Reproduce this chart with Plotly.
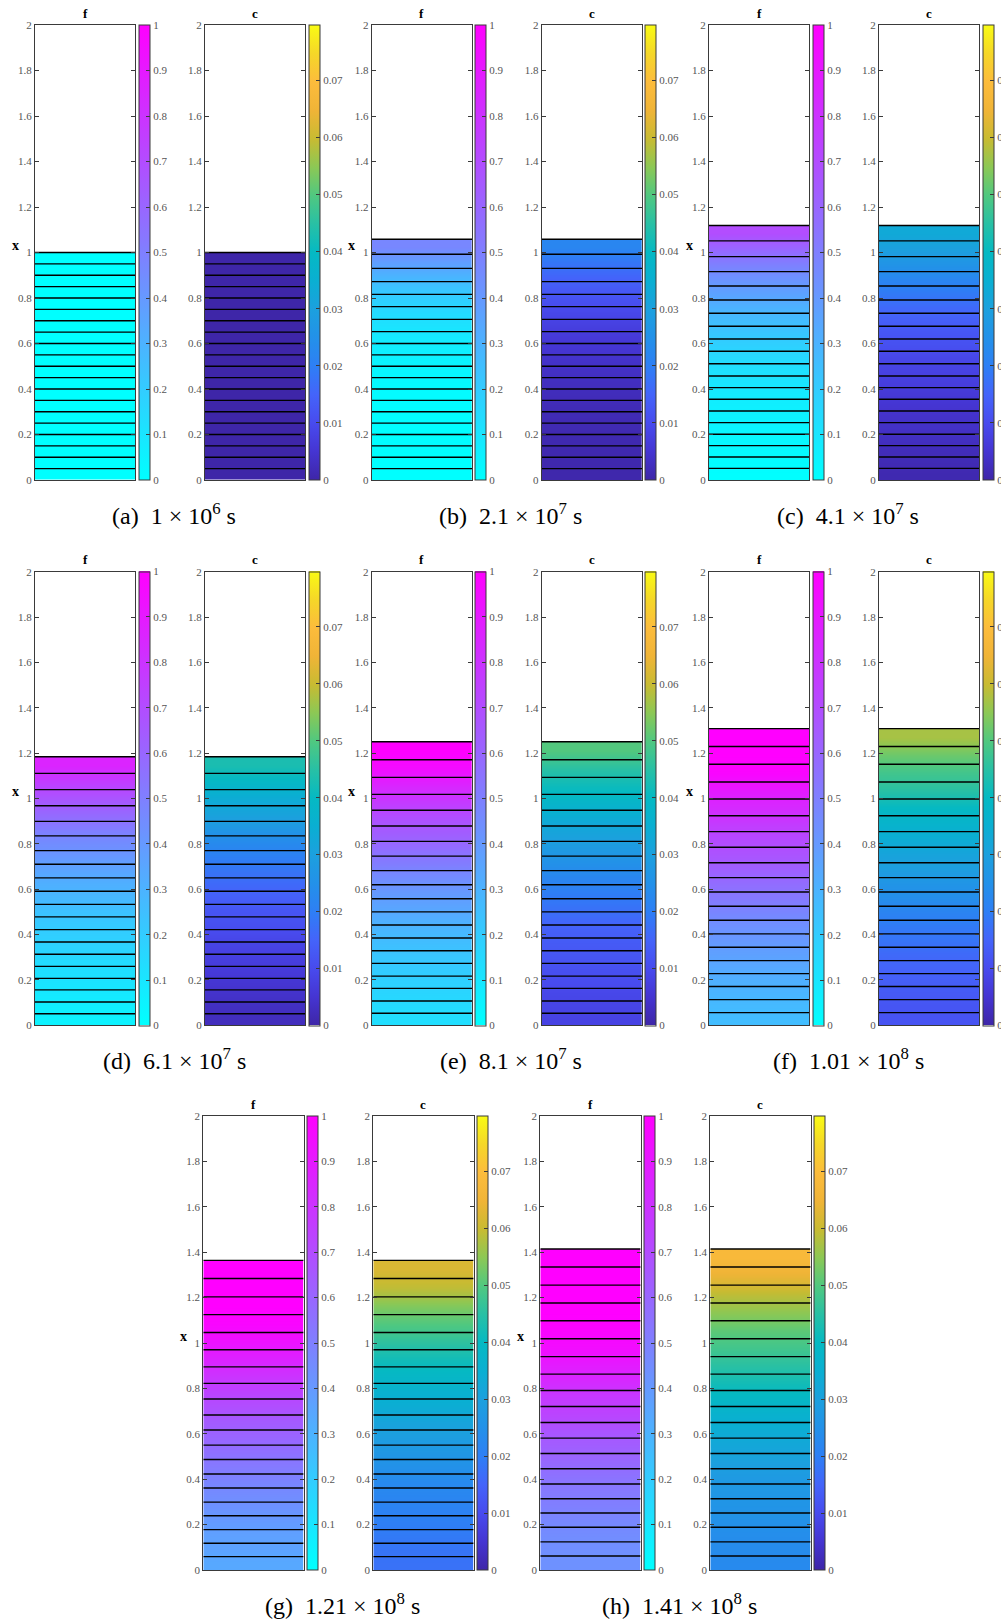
import plotly.graph_objects as go

W, H = 1001, 1623

# ---------------- data ----------------
labels = ["(a)", "(b)", "(c)", "(d)", "(e)", "(f)", "(g)", "(h)"]
times = ["1 × 10<sup>6</sup> s", "2.1 × 10<sup>7</sup> s", "4.1 × 10<sup>7</sup> s",
         "6.1 × 10<sup>7</sup> s", "8.1 × 10<sup>7</sup> s", "1.01 × 10<sup>8</sup> s",
         "1.21 × 10<sup>8</sup> s", "1.41 × 10<sup>8</sup> s"]

# cell edges (bottom -> top) for each snapshot
edges_a = [0, 0.05, 0.10, 0.15, 0.20, 0.25, 0.30, 0.35, 0.40, 0.45, 0.50,
           0.55, 0.60, 0.65, 0.70, 0.75, 0.80, 0.85, 0.90, 0.95, 1.0]
edges_b = [0, 0.05, 0.10, 0.15, 0.20, 0.25, 0.30, 0.35, 0.40, 0.45, 0.50,
           0.55, 0.60, 0.652, 0.706, 0.762, 0.816, 0.872, 0.930, 0.992, 1.058]
edges_c = [0, 0.051, 0.101, 0.151, 0.201, 0.252, 0.303, 0.355, 0.406, 0.457, 0.511,
           0.566, 0.620, 0.676, 0.733, 0.791, 0.853, 0.916, 0.982, 1.051, 1.119]
edges_d = [0, 0.051, 0.103, 0.156, 0.207, 0.26, 0.313, 0.367, 0.422, 0.478, 0.533,
           0.591, 0.65, 0.71, 0.77, 0.835, 0.899, 0.968, 1.039, 1.111, 1.184]
edges_e = [0, 0.053, 0.107, 0.163, 0.217, 0.273, 0.329, 0.385, 0.442, 0.5, 0.558,
           0.62, 0.682, 0.746, 0.811, 0.879, 0.948, 1.018, 1.093, 1.171, 1.25]
edges_f = [0, 0.056, 0.113, 0.171, 0.228, 0.285, 0.344, 0.403, 0.463, 0.525, 0.588,
           0.651, 0.717, 0.785, 0.854, 0.924, 0.998, 1.073, 1.151, 1.229, 1.308]
edges_g = [0, 0.059, 0.118, 0.178, 0.239, 0.299, 0.361, 0.423, 0.487, 0.55, 0.617,
           0.683, 0.753, 0.822, 0.895, 0.97, 1.046, 1.125, 1.203, 1.284, 1.364]
edges_h = [0, 0.062, 0.124, 0.188, 0.251, 0.314, 0.379, 0.446, 0.513, 0.581, 0.65,
           0.72, 0.791, 0.863, 0.94, 1.019, 1.098, 1.176, 1.255, 1.335, 1.414]

# f (volume fraction) per cell, bottom -> top
f_a = [0.0] * 20
f_b = [0, 0.001, 0.002, 0.003, 0.005, 0.007, 0.01, 0.015, 0.02, 0.03,
       0.04, 0.06, 0.08, 0.11, 0.14, 0.18, 0.23, 0.30, 0.38, 0.47]
f_c = [0.005, 0.01, 0.02, 0.03, 0.04, 0.05, 0.06, 0.08, 0.1, 0.12,
       0.15, 0.18, 0.22, 0.26, 0.3, 0.36, 0.42, 0.5, 0.6, 0.7]
f_d = [0.05, 0.06, 0.08, 0.1, 0.12, 0.14, 0.17, 0.19, 0.21, 0.24,
       0.28, 0.31, 0.35, 0.4, 0.45, 0.51, 0.59, 0.67, 0.76, 0.86]
f_e = [0.13, 0.14, 0.16, 0.18, 0.2, 0.22, 0.25, 0.28, 0.32, 0.36,
       0.4, 0.45, 0.51, 0.57, 0.63, 0.69, 0.77, 0.85, 0.95, 1.0]
f_f = [0.26, 0.27, 0.29, 0.31, 0.34, 0.37, 0.4, 0.43, 0.47, 0.52,
       0.57, 0.62, 0.67, 0.71, 0.77, 0.84, 0.9, 0.98, 1.0, 1.0]
f_g = [0.34, 0.36, 0.37, 0.39, 0.42, 0.45, 0.48, 0.52, 0.56, 0.6,
       0.64, 0.69, 0.74, 0.8, 0.87, 0.93, 0.98, 1.0, 1.0, 1.0]
f_h = [0.43, 0.44, 0.45, 0.47, 0.5, 0.52, 0.55, 0.59, 0.63, 0.67,
       0.73, 0.77, 0.83, 0.89, 0.95, 0.98, 1.0, 1.0, 1.0, 1.0]

# c (concentration) per cell, bottom -> top
c_a = [0.0] * 20
c_b = [0.0005, 0.0006, 0.0008, 0.001, 0.0012, 0.0015, 0.0018, 0.0022, 0.0027, 0.0033,
       0.004, 0.005, 0.006, 0.0075, 0.009, 0.011, 0.013, 0.0155, 0.0185, 0.022]
c_c = [0.001, 0.0015, 0.002, 0.003, 0.0035, 0.004, 0.005, 0.006, 0.007, 0.008,
       0.009, 0.011, 0.012, 0.014, 0.016, 0.019, 0.022, 0.026, 0.030, 0.033]
c_d = [0.0025, 0.003, 0.004, 0.005, 0.006, 0.007, 0.008, 0.0095, 0.011, 0.012,
       0.014, 0.016, 0.018, 0.02, 0.023, 0.027, 0.031, 0.034, 0.039, 0.043]
c_e = [0.008, 0.0085, 0.009, 0.01, 0.011, 0.012, 0.013, 0.014, 0.016, 0.018,
       0.02, 0.022, 0.025, 0.028, 0.031, 0.034, 0.038, 0.041, 0.045, 0.05]
c_f = [0.0115, 0.012, 0.013, 0.014, 0.015, 0.016, 0.018, 0.019, 0.021, 0.024,
       0.026, 0.029, 0.031, 0.034, 0.037, 0.04, 0.045, 0.048, 0.052, 0.057]
c_g = [0.0175, 0.018, 0.019, 0.02, 0.021, 0.022, 0.023, 0.025, 0.027, 0.029,
       0.031, 0.034, 0.036, 0.039, 0.042, 0.046, 0.05, 0.054, 0.059, 0.062]
c_h = [0.023, 0.0235, 0.024, 0.025, 0.026, 0.027, 0.028, 0.03, 0.032, 0.034,
       0.036, 0.039, 0.042, 0.045, 0.048, 0.051, 0.055, 0.059, 0.064, 0.068]

f_range = [0, 1]
c_range = [0, 0.0797]
y_ticks = [0, 0.2, 0.4, 0.6, 0.8, 1, 1.2, 1.4, 1.6, 1.8, 2]

panels = [
    (labels[0], times[0], edges_a, f_a, c_a),
    (labels[1], times[1], edges_b, f_b, c_b),
    (labels[2], times[2], edges_c, f_c, c_c),
    (labels[3], times[3], edges_d, f_d, c_d),
    (labels[4], times[4], edges_e, f_e, c_e),
    (labels[5], times[5], edges_f, f_f, c_f),
    (labels[6], times[6], edges_g, f_g, c_g),
    (labels[7], times[7], edges_h, f_h, c_h),
]

# ---------------- styling ----------------
cool = [[0, "rgb(0,255,255)"], [1, "rgb(255,0,255)"]]
parula = [
    [0.0, "rgb(62,38,168)"], [0.0625, "rgb(69,53,210)"], [0.125, "rgb(72,75,238)"],
    [0.1875, "rgb(68,100,250)"], [0.25, "rgb(46,127,245)"], [0.3125, "rgb(35,145,233)"],
    [0.375, "rgb(28,160,222)"], [0.4375, "rgb(10,175,210)"], [0.5, "rgb(5,185,195)"],
    [0.5625, "rgb(40,192,165)"], [0.625, "rgb(80,200,128)"], [0.6875, "rgb(140,200,85)"],
    [0.75, "rgb(200,187,50)"], [0.8125, "rgb(240,180,55)"], [0.875, "rgb(252,188,60)"],
    [0.9375, "rgb(245,215,40)"], [1.0, "rgb(249,251,20)"],
]
FONT = "Liberation Serif"
TICKFONT = dict(family=FONT, size=11, color="#555555")
AXCOL = "#3a3a3a"

rows_px = [(25, 480), (571.7, 1025.3), (1116, 1570)]
base_x = [35, 371.7, 709, 35, 371.7, 709, 203.3, 540.3]
row_of = [0, 0, 0, 1, 1, 1, 2, 2]

fig = go.Figure()
layout = dict(
    width=W, height=H, margin=dict(l=0, r=0, t=0, b=0, autoexpand=False),
    paper_bgcolor="white", plot_bgcolor="white", showlegend=False,
    font=dict(family=FONT),
)
annotations = []

k = 0
for p, (lab, tm, edges, fv, cv) in enumerate(panels):
    top_px, bot_px = rows_px[row_of[p]]
    bx = base_x[p]
    for s, (name, vals, cs, rng, dt) in enumerate([
            ("f", fv, cool, f_range, 0.1), ("c", cv, parula, c_range, 0.01)]):
        k += 1
        xa = "x" if k == 1 else f"x{k}"
        ya = "y" if k == 1 else f"y{k}"
        x0 = bx + (0 if s == 0 else 170)
        x1 = x0 + 100.3
        cb_left = x1 + 3.4
        layout["xaxis" + ("" if k == 1 else str(k))] = dict(
            domain=[x0 / W, x1 / W], range=[0, 1], showticklabels=False, ticks="",
            showline=True, mirror=True, linecolor=AXCOL, linewidth=1,
            showgrid=False, zeroline=False, anchor=ya,
        )
        layout["yaxis" + ("" if k == 1 else str(k))] = dict(
            domain=[1 - bot_px / H, 1 - top_px / H], range=[0, 2],
            tickmode="array", tickvals=y_ticks,
            ticks="inside", ticklen=4, tickcolor=AXCOL,
            showline=True, mirror="ticks", linecolor=AXCOL, linewidth=1,
            showgrid=False, zeroline=False, anchor=xa, tickfont=TICKFONT,
        )
        fig.add_trace(go.Heatmap(
            x=[0, 0.5, 1], y=edges, z=[[v, v] for v in vals],
            colorscale=cs, zmin=rng[0], zmax=rng[1], zsmooth="best",
            xaxis=xa, yaxis=ya, hoverinfo="skip",
            colorbar=dict(
                x=cb_left / W, xanchor="left", xref="paper",
                y=1 - (top_px + bot_px) / 2 / H, yanchor="middle", yref="paper",
                len=bot_px - top_px, lenmode="pixels",
                thickness=10.7, thicknessmode="pixels",
                xpad=0, ypad=0, outlinewidth=1, outlinecolor=AXCOL,
                ticks="inside", ticklen=4, tickcolor=AXCOL,
                tickmode="linear", tick0=0, dtick=dt, tickfont=TICKFONT,
            ),
        ))
        lx, ly = [], []
        for e in edges[1:]:
            lx += [0, 1, None]
            ly += [e, e, None]
        fig.add_trace(go.Scatter(
            x=lx, y=ly, mode="lines", line=dict(color="black", width=1.4),
            xaxis=xa, yaxis=ya, hoverinfo="skip",
        ))
        annotations.append(dict(
            text=f"<b>{name}</b>", x=(x0 + x1) / 2 / W, y=1 - (top_px - 12) / H,
            xref="paper", yref="paper", showarrow=False, xanchor="center", yanchor="middle",
            font=dict(family=FONT, size=13, color="black"),
        ))
        if s == 0:
            annotations.append(dict(
                text="<b>x</b>", x=(x0 - 20) / W, y=1.03, xref="paper", yref=ya,
                showarrow=False, xanchor="center", yanchor="middle",
                font=dict(family=FONT, size=14, color="black"),
            ))
    annotations.append(dict(
        text=f"{lab}&nbsp;&nbsp;{tm}", x=(bx + 139) / W, y=1 - (bot_px + 34) / H,
        xref="paper", yref="paper", showarrow=False, xanchor="center", yanchor="middle",
        font=dict(family=FONT, size=24, color="black"),
    ))

layout["annotations"] = annotations
fig.update_layout(**layout)
fig.write_html("out.html", config={"displayModeBar": False},
               post_script="document.body.style.margin='0px';")
